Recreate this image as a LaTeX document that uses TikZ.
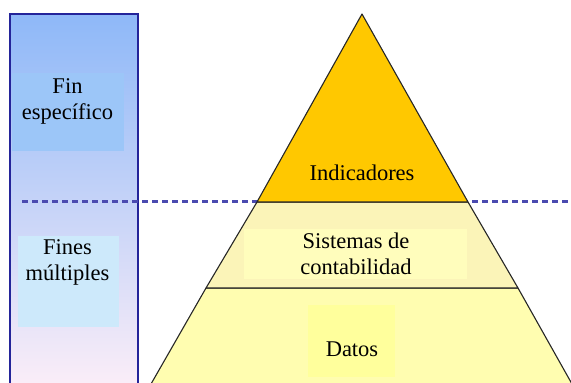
\documentclass[tikz,border=0pt]{standalone}
\usepackage{fontspec}
\setmainfont{Liberation Serif}
\definecolor{rtop}{HTML}{8EB8F8}
\definecolor{rmid}{HTML}{C4D9F2}
\definecolor{rbot}{HTML}{FCEEF8}
\definecolor{rborder}{HTML}{24249A}
\definecolor{finbox}{HTML}{9CC6F8}
\definecolor{finesbox}{HTML}{CDE9FB}
\definecolor{dashc}{HTML}{4A4AB0}
\definecolor{gold}{HTML}{FFC800}
\definecolor{midtier}{HTML}{FBF4B8}
\definecolor{bottier}{HTML}{FFFDB0}
\definecolor{sisbox}{HTML}{FFFDBC}
\definecolor{datbox}{HTML}{FFFF9C}
\tikzset{
  lbl/.style={font=\fontsize{22.5}{26}\selectfont, align=center, inner sep=0pt, text=black},
  tier/.style={draw=black!85, line width=1.1pt, line join=round},
}
\begin{document}
\begin{tikzpicture}[x=1pt,y=-1pt]
\useasboundingbox (0,0) rectangle (571,383);
% left column
\shade[top color=rtop, middle color=rmid, bottom color=rbot] (9.5,14) rectangle (137.5,390);
\draw[rborder, line width=2pt] (9.5,390) -- (9.5,14) -- (137.5,14) -- (137.5,390);
\fill[finbox] (12,73) rectangle (124,151);
\fill[finesbox] (18,236) rectangle (119,327);
\node[lbl] (fin) at (67.5,101) {Fin\\específico};
\node[lbl] (fines) at (67.5,262) {Fines\\múltiples};
% dashed line
\draw[dashc, line width=2.2pt, dash pattern=on 6pt off 4pt] (22,201.5) -- (571,201.5);
% pyramid
\filldraw[tier, fill=bottier] (206,288) -- (518,288) -- (572,384) -- (151,384) -- cycle;
\filldraw[tier, fill=midtier] (257,202) -- (468,202) -- (518,288) -- (206,288) -- cycle;
\filldraw[tier, fill=gold] (362,14) -- (468,202) -- (257,202) -- cycle;
\fill[sisbox] (244,229) rectangle (467,279);
\fill[datbox] (308,305) rectangle (395,377);
\node[lbl] (ind) at (362,173) {Indicadores};
\node[lbl] (sis) at (356,254) {Sistemas de\\contabilidad};
\node[lbl] (dat) at (352,349) {Datos};
\end{tikzpicture}
\end{document}
